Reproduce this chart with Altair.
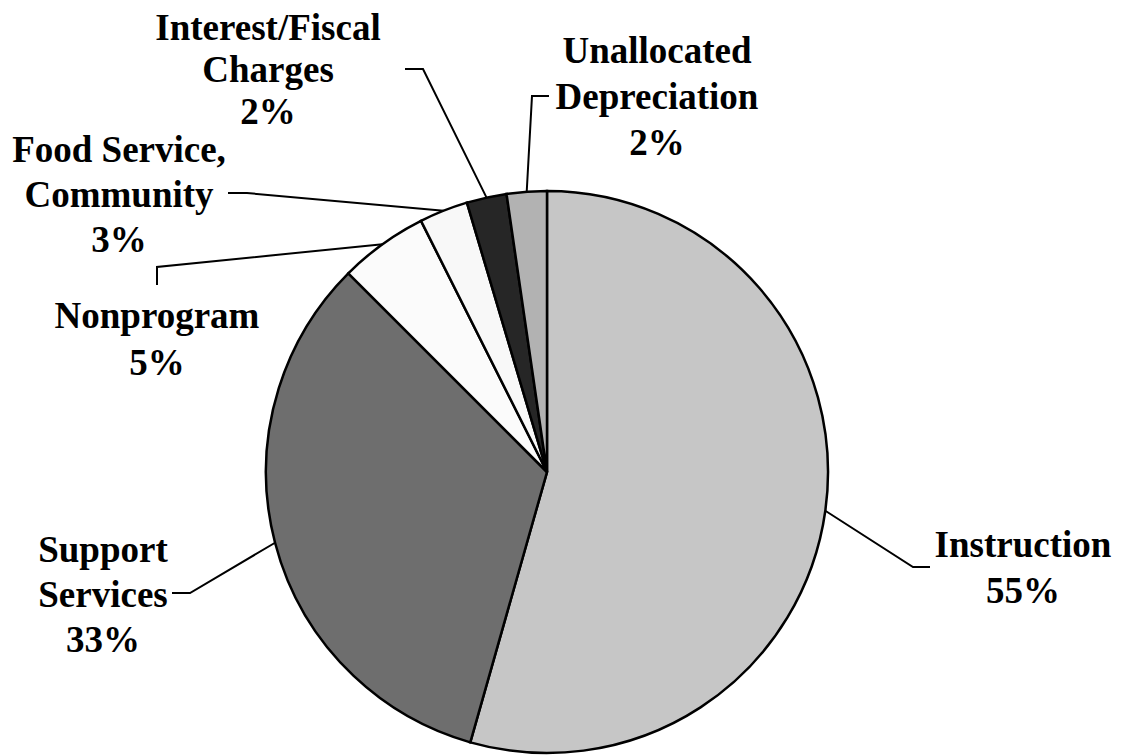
import altair as alt
import pandas as pd
import numpy as np

# ---- data ----
categories = ["Instruction", "Support Services", "Nonprogram",
              "Food Service, Community", "Interest/Fiscal Charges",
              "Unallocated Depreciation"]
shares = [54.4, 33.1, 5.1, 2.8, 2.3, 2.3]
pct_labels = ["55%", "33%", "5%", "3%", "2%", "2%"]
label_text = ["Instruction", "Support\nServices", "Nonprogram",
              "Food Service,\nCommunity", "Interest/Fiscal\nCharges",
              "Unallocated\nDepreciation"]

# ---- styling / layout (page pixels) ----
fills = ["#c6c6c6", "#6e6e6e", "#fbfbfb", "#f8f8f8", "#262626", "#b2b2b2"]
W, H, OFF = 1108, 739, 8
CX, CY, R = 547, 472, 281
label_x = [1023, 103, 157, 119, 268, 657]
label_y = [557, 562, 328, 162, 40, 63]
label_lh = [46, 45, 47, 45, 42, 46]
elbow_x = [913, 190, 157, 247, 423, 532]
elbow_y = [567, 593, 267, 193, 69, 96]
end_x = [930, 172, 157, 228, 405, 549]
end_y = [567, 593, 285, 193, 69, 96]
FONT = "Liberation Serif, Times New Roman, DejaVu Serif, serif"

xs = alt.Scale(domain=[OFF, OFF + W], range=[0, W])
ys = alt.Scale(domain=[OFF, OFF + H], range=[0, H])

df = pd.DataFrame({
    "category": categories,
    "share": shares,
    "idx": list(range(len(categories))),
})

# one row per text line so each label keeps its own line spacing
trows = []
for i, c in enumerate(categories):
    parts = label_text[i].split("\n") + [pct_labels[i]]
    for j, p in enumerate(parts):
        trows.append({"category": c, "line": p, "lx": label_x[i],
                      "ly": label_y[i] + j * label_lh[i]})
lab = pd.DataFrame(trows)

# leader lines: start at slice mid-angle on the pie edge
tot = float(np.sum(shares))
cum = np.cumsum([0] + shares[:-1])
mid = (cum + np.array(shares) / 2) / tot * 2 * np.pi
rows = []
for i, c in enumerate(categories):
    sx = CX + R * np.sin(mid[i])
    sy = CY - R * np.cos(mid[i])
    rows.append({"category": c, "k": 0, "px": sx, "py": sy})
    rows.append({"category": c, "k": 1, "px": elbow_x[i], "py": elbow_y[i]})
    rows.append({"category": c, "k": 2, "px": end_x[i], "py": end_y[i]})
lines = pd.DataFrame(rows)

pie = alt.Chart(df).mark_arc(outerRadius=R, stroke="black", strokeWidth=2.5).encode(
    theta=alt.Theta("share:Q", stack=True),
    order=alt.Order("idx:Q"),
    color=alt.Color("category:N", scale=alt.Scale(domain=categories, range=fills), legend=None),
    x=alt.XDatum(CX, scale=xs, axis=None),
    y=alt.YDatum(CY, scale=ys, axis=None),
)

leaders = alt.Chart(lines).mark_line(color="black", strokeWidth=2).encode(
    x=alt.X("px:Q", scale=xs, axis=None),
    y=alt.Y("py:Q", scale=ys, axis=None),
    detail="category:N",
    order="k:Q",
)

texts = alt.Chart(lab).mark_text(
    font=FONT, fontWeight="bold", fontSize=37,
    align="center", baseline="alphabetic", color="black",
).encode(
    x=alt.X("lx:Q", scale=xs, axis=None),
    y=alt.Y("ly:Q", scale=ys, axis=None),
    text="line:N",
)

chart = alt.layer(pie, leaders, texts).properties(
    width=W, height=H, padding=0, background="white"
).configure_view(stroke=None)

chart.save("out.html", embed_options={"renderer": "svg", "actions": False})
